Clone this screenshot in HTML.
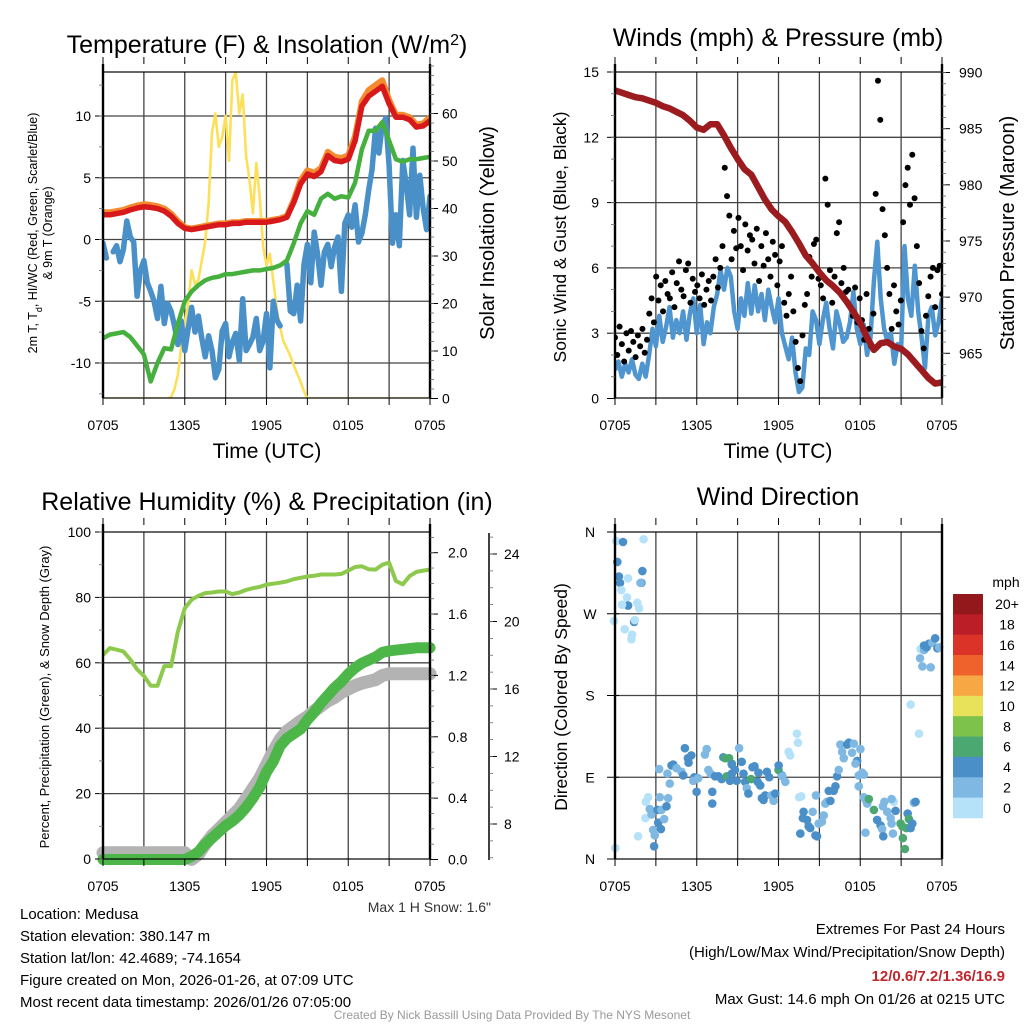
<!DOCTYPE html>
<html><head><meta charset="utf-8"><title>Medusa Meteogram</title>
<style>
html,body{margin:0;padding:0;background:#fff;}
svg{display:block;font-family:"Liberation Sans",Arial,sans-serif;}
</style></head>
<body>
<svg id="root" width="1024" height="1024" viewBox="0 0 1024 1024" xmlns="http://www.w3.org/2000/svg">
<rect x="0" y="0" width="1024" height="1024" fill="#fff"/>
<g id="p1"></g>
<g id="p2"></g>
<g id="p3"></g>
<g id="p4"></g>
<g id="txt">
<text x="267" y="53" font-size="25" text-anchor="middle">Temperature (F) &amp; Insolation (W/m<tspan baseline-shift="super" font-size="16">2</tspan>)</text>
<text x="778" y="46" font-size="25" text-anchor="middle">Winds (mph) &amp; Pressure (mb)</text>
<text x="267" y="510" font-size="25" text-anchor="middle">Relative Humidity (%) &amp; Precipitation (in)</text>
<text x="778" y="505" font-size="25" text-anchor="middle">Wind Direction</text>
<text x="267" y="458" font-size="21" text-anchor="middle">Time (UTC)</text>
<text x="778" y="458" font-size="21" text-anchor="middle">Time (UTC)</text>
<text transform="translate(37,233) rotate(-90)" font-size="12.5" text-anchor="middle">2m T, T<tspan baseline-shift="sub" font-size="9">d</tspan>, HI/WC (Red, Green, Scarlet/Blue)</text>
<text transform="translate(52,233) rotate(-90)" font-size="12.5" text-anchor="middle">&amp; 9m T (Orange)</text>
<text transform="translate(494,233) rotate(-90)" font-size="20" text-anchor="middle">Solar Insolation (Yellow)</text>
<text transform="translate(566,237) rotate(-90)" font-size="17.5" text-anchor="middle">Sonic Wind &amp; Gust (Blue, Black)</text>
<text transform="translate(1014,233) rotate(-90)" font-size="20" text-anchor="middle">Station Pressure (Maroon)</text>
<text transform="translate(49,697) rotate(-90)" font-size="13" text-anchor="middle">Percent, Precipitation (Green), &amp; Snow Depth (Gray)</text>
<text transform="translate(567,697) rotate(-90)" font-size="17.5" text-anchor="middle">Direction (Colored By Speed)</text>
<text x="491" y="912" font-size="14" fill="#333" text-anchor="end">Max 1 H Snow: 1.6"</text>
<g font-size="15">
<text x="20" y="919">Location: Medusa</text>
<text x="20" y="941">Station elevation: 380.147 m</text>
<text x="20" y="963">Station lat/lon: 42.4689; -74.1654</text>
<text x="20" y="985">Figure created on Mon, 2026-01-26, at 07:09 UTC</text>
<text x="20" y="1007">Most recent data timestamp: 2026/01/26 07:05:00</text>
</g>
<g font-size="15" text-anchor="end">
<text x="1005" y="934">Extremes For Past 24 Hours</text>
<text x="1005" y="957">(High/Low/Max Wind/Precipitation/Snow Depth)</text>
<text x="1005" y="981" fill="#c0272d" font-weight="bold">12/0.6/7.2/1.36/16.9</text>
<text x="1005" y="1004">Max Gust: 14.6 mph On 01/26 at 0215 UTC</text>
</g>
<text x="512" y="1019" font-size="12" fill="#999" text-anchor="middle">Created By Nick Bassill Using Data Provided By The NYS Mesonet</text>
</g>
</svg>
<script>
// ---------- DATA ----------
const timeLabels = ["0705","1305","1905","0105","0705"];
// panel 1 (half-hourly, 49 values)
const tempRed = [2.0,2.0,2.1,2.2,2.4,2.55,2.65,2.6,2.5,2.3,1.9,1.3,0.9,0.8,0.9,1.0,1.1,1.2,1.2,1.3,1.3,1.4,1.4,1.4,1.4,1.5,1.6,1.8,3.0,4.5,5.3,5.1,5.5,6.8,6.4,6.3,6.5,8.0,10.8,11.6,12.0,12.4,11.0,9.9,9.9,9.7,9.1,9.2,9.6];
const temp9mOrange = [2.2,2.2,2.3,2.4,2.6,2.75,2.85,2.8,2.7,2.5,2.1,1.5,1.0,0.9,1.0,1.1,1.2,1.3,1.3,1.4,1.4,1.5,1.5,1.5,1.5,1.6,1.7,1.9,3.2,4.8,5.6,5.4,5.8,7.1,6.7,6.6,6.8,8.4,11.2,12.1,12.5,12.9,11.3,10.1,10.1,9.9,9.3,9.4,9.9];
const dewGreen = [-8.0,-7.7,-7.6,-7.5,-7.9,-8.6,-9.3,-11.5,-10.0,-8.8,-8.9,-6.8,-5.0,-4.2,-3.7,-3.3,-3.1,-3.0,-2.8,-2.8,-2.7,-2.6,-2.5,-2.5,-2.4,-2.3,-2.1,-1.7,-0.3,1.3,2.3,2.0,3.3,3.7,3.3,3.5,3.4,4.6,7.3,8.8,8.8,9.5,8.0,6.5,6.3,6.5,6.5,6.6,6.7];
// quarter-hourly, 97 values (null = gap)
const chillBlue = [-0.3,-1.5,null,-1.0,-0.5,-1.8,-0.8,1.5,0.2,-0.2,-4.6,-2.5,-1.7,-3.5,-4.2,-5.0,-6.4,-3.8,-6.8,-5.2,-5.8,-7.0,-8.5,-6.6,-9.0,-7.2,-5.5,-7.5,-6.2,-8.0,-9.5,-7.8,-9.0,-11.2,-10.5,-7.4,-6.8,-9.5,-8.3,-7.6,-9.8,-4.8,-9.0,-8.5,-7.9,-6.4,-9.0,-8.2,-6.0,-10.4,-5.0,-6.5,-7.0,null,-2.0,-5.8,-6.0,-3.7,-6.6,-2.0,-0.4,-3.5,0.6,-1.2,-3.7,-1.0,-0.4,-2.2,-0.6,0.2,-4.2,1.3,2.0,1.0,2.8,-0.2,0.5,2.0,4.0,5.7,9.0,7.0,9.3,9.8,6.0,-0.3,2.0,-0.5,6.4,4.5,2.0,7.4,1.8,5.2,2.5,0.8,3.5];
// quarter-hourly insolation, 97 values
const insolation = [0,0,0,0,0,0,0,0,0,0,0,0,0,0,0,0,0,0,0,0,
0.3,2,5,11,16,20,27,24,25,29,33,41,56,60,53,55,59.5,50,67,68.7,60,64,51,46,39,49.6,42.5,32,28,30.5,24.7,19,15,12,10.5,9,7,5.2,3.5,1.5,0,
0,0,0,0,0,0,0,0,0,0,0,0,0,0,0,0,0,0,0,0,0,0,0,0,0,0,0,0,0,0,0,0,0,0,0,0];
const p1LeftTicks = [10,5,0,-5,-10];
const p1RightTicks = [0,10,20,30,40,50,60];
// panel 2
const pressure = [988.4,988.2,988.0,987.8,987.7,987.5,987.3,987.0,986.8,986.5,986.2,985.7,985.1,984.9,985.4,985.4,984.4,983.3,982.3,981.4,980.9,979.8,978.7,977.8,977.2,976.7,975.8,974.8,973.7,973.0,972.2,971.5,971.0,970.4,969.6,968.7,967.7,966.4,965.3,965.9,966.0,965.6,965.4,964.9,964.2,963.5,962.8,962.3,962.4];
const sonicWind = [1.3,1.7,1.0,1.6,1.2,1.8,1.1,0.9,1.6,1.0,2.0,3.2,2.4,3.8,2.6,3.3,4.2,2.8,3.6,3.0,4.0,2.7,3.9,4.6,3.0,4.3,2.5,3.5,3.0,4.2,4.8,5.9,5.0,6.0,5.6,4.0,3.2,4.6,3.8,5.3,3.9,5.2,4.0,4.8,3.6,5.0,4.2,3.5,4.6,3.0,2.4,1.8,2.8,1.2,0.3,0.5,2.3,2.0,4.0,3.6,2.5,3.6,4.4,3.2,2.3,4.0,3.4,2.6,2.8,3.5,4.9,3.2,2.5,3.4,2.0,2.8,5.4,7.2,4.6,3.2,2.6,3.0,1.6,2.5,2.2,7.0,4.6,3.8,6.1,4.0,2.8,1.4,3.8,4.2,2.9,3.5,4.6];
const gusts = [2.8,2.0,3.3,2.5,1.7,3.0, 2.2,3.1,2.6,1.9,2.9,2.4, 3.2,2.1,2.7,3.9,4.6,3.5, 5.6,4.5,5.2,4.0,5.4,4.8, 4.6,5.8,4.2,5.3,6.3,5.0, 4.7,5.9,6.2,4.4,5.5,4.9, 5.2,4.6,5.7,4.3,5.0,5.4, 4.5,5.6,6.4,5.1,6.0,7.0, 10.6,9.3,8.4,6.4,7.7,6.9, 8.3,7.0,5.9,8.0,6.8,7.5, 7.3,6.2,7.8,5.4,7.0,6.1, 7.6,6.4,5.6,7.2,6.6,5.2, 6.3,7.0,4.4,3.8,4.8,5.6, 4.0,2.6,1.4,0.8,2.9,4.3, 4.8,6.5,5.6,7.1,7.3,5.5, 5.2,4.6,10.1,8.9,5.9,4.4, 5.6,7.6,8.1,5.3,6.0,4.9, 5.0,4.2,3.8,5.1,3.5,4.6, 3.6,2.7,4.8,3.2,2.4,3.9, 9.4,14.6,12.8,8.7,7.5,6.0, 4.8,3.2,5.2,4.0,3.4,4.5, 8.1,9.8,10.6,8.9,11.2,9.2, 7.0,5.3,3.1,2.3,3.8,4.7, 5.6,6.0,4.2,5.9,6.1,4.8];
const windTicks = [0,3,6,9,12,15];
const pressTicks = [965,970,975,980,985,990];
// panel 3
const relHum = [62.4,64.5,64,63.5,61,58,56,53,53,59,59,69.6,76.7,79.3,80.5,81.3,81.5,81.8,81.8,81.0,81.5,82.3,82.8,83.2,83.9,84.2,84.5,84.9,85.6,86,86.4,86.6,87,87,87,87.2,88.2,89.3,89.5,88.6,88.5,90,90.6,85,84,86.5,87.8,88.2,88.5];
const precip = [0,0,0,0,0,0,0,0,0,0,0,0,0,0.02,0.05,0.1,0.14,0.18,0.22,0.25,0.29,0.34,0.40,0.47,0.57,0.64,0.74,0.79,0.82,0.85,0.91,0.96,1.02,1.07,1.12,1.16,1.21,1.25,1.28,1.30,1.32,1.35,1.36,1.365,1.37,1.375,1.38,1.38,1.38];
const snowDepth = [6.3,6.3,6.3,6.3,6.3,6.3,6.3,6.3,6.3,6.3,6.3,6.3,6.3,5.9,6.2,6.8,7.3,7.7,8.1,8.5,8.9,9.5,10.1,10.7,11.5,12.3,13.0,13.5,13.8,14.1,14.35,14.7,15.0,15.3,15.5,15.8,16.0,16.2,16.35,16.45,16.55,16.8,16.9,16.9,16.9,16.9,16.9,16.9,16.9];
const rhTicks = [0,20,40,60,80,100];
const precipTicks = [0.0,0.4,0.8,1.2,1.6,2.0];
const snowTicks = [8,12,16,20,24];
// panel 4
const dirHour = [0.1,0.59,2.1,0.17,0.29,0.96,0.37,1.94,0.47,1.87,2.01,0.88,0.96,0.52,1.64,1.77,1.4,-0.07,1.45,0.71,1.25,1.2,0.02,
1.69,2.23,2.26,2.43,2.55,2.68,2.8,2.92,2.87,3.12,3.17,3.37,3.61,3.41,3.29,3.24,3.78,3.9,3.85,4.02,4.15,4.27,4.52,4.88,5.01,5.13,5.35,5.4,5.6,5.82,5.74,5.99,6.11,6.6,6.73,6.85,7.02,7.14,7.14,7.34,7.59,7.83,7.95,8.08,8.2,8.37,8.57,8.57,8.44,8.57,8.81,8.93,9.11,9.3,9.43,9.55,9.67,9.79,9.99,10.09,10.24,10.47,10.53,10.66,10.78,10.9,11.02,11.15,11.32,11.47,11.64,11.76,12.0,12.01,12.25,12.28,12.5,12.74,12.86,13.35,13.43,13.52,13.67,13.6,13.79,
13.84,14.09,14.21,14.33,14.51,14.71,14.83,14.95,15.19,15.32,15.44,15.56,14.75,15.69,15.81,16.05,16.18,16.3,16.42,16.54,16.67,16.79,17.04,17.16,17.4,17.53,17.77,17.65,17.89,18.01,18.14,17.89,18.26,18.38,18.26,
18.4,18.51,18.63,19.0,19.24,19.49,19.61,19.69,19.77,19.66,19.98,20.23,20.3,20.4,20.47,20.3,20.59,20.96,21.08,21.13,21.28,21.38,21.48,21.57,21.7,21.82,21.94,22.06,21.7,22.31,
22.43,22.39,22.56,22.68,22.68,22.87,23.05,23.17,23.29,23.5,23.66,23.79,23.86,24.03];
const dirDeg = [350,349,352,327,311,309,304,304,296,304,317,288,279,280,282,276,261,262,263,253,247,242,12,
25,45,63,68,55,49,32,26,14,54,40,33,44,54,68,99,58,67,94,83,103,104,100,96,92,122,111,106,114,90,86,74,89,115,121,98,94,74,61,91,91,88,112,111,91,111,105,104,86,94,98,86,122,107,94,85,78,72,88,101,102,85,95,81,67,65,70,96,90,70,64,72,98,103,92,91,85,118,114,138,128,68,69,
28,45,52,43,36,34,52,26,25,39,41,48,61,63,70,75,64,75,80,91,98,126,118,111,126,128,117,127,108,105,92,121,95,80,93,
29,68,65,61,66,54,43,37,33,25,63,58,52,45,39,28,63,66,53,39,36,23,11,34,50,44,34,39,62,63,
170,138,231,221,212,230,235,233,237,211,238,243,232,233];
const dirSpeed = [0,4,0,4,4,0,4,4,0,2,4,0,4,0,0,0,4,0,0,0,0,0,0,
0,0,0,0,2,2,2,2,4,4,4,4,2,2,2,2,4,2,2,2,4,4,2,2,4,4,4,4,4,4,2,4,2,2,2,2,2,4,4,4,4,4,4,6,6,6,6,4,4,4,4,4,2,4,4,4,2,4,6,4,4,4,4,4,4,4,4,4,4,2,2,4,6,4,4,2,2,0,0,0,0,0,0,
4,4,4,4,4,4,2,4,4,2,2,2,2,2,2,4,4,4,4,4,2,2,2,2,4,4,2,2,4,2,2,2,2,2,2,
2,2,2,2,6,6,4,4,2,4,2,2,2,2,2,2,0,2,4,6,6,6,6,6,4,6,4,4,2,4,0,
0,0,2,2,2,4,4,4,2,2,4,4,2,2];
const dirLabels = ["N","E","S","W","N"];
const dirTickDeg = [0,90,180,270,360];
const speedClasses = ["0","2","4","6","8","10","12","14","16","18","20+"];
const speedColors = ["#b5e2f8","#7fb9e3","#4a8fc7","#4aa870","#7dc24b","#e8e15a","#f7a844","#f0622c","#dc3328","#bb1e26","#93181c"];

// ---------- HELPERS ----------
const NS="http://www.w3.org/2000/svg";
function mk(parent, tag, attrs){const e=document.createElementNS(NS,tag);for(const k in attrs)e.setAttribute(k,attrs[k]);parent.appendChild(e);return e;}
function axisX(x0,x1){return h=>x0+h*(x1-x0)/24;}
function lin(d0,d1,r0,r1){return v=>r0+(v-d0)*(r1-r0)/(d1-d0);}
function pathFrom(arr,xs,ys,step){let d="",pen=false;arr.forEach((v,i)=>{if(v===null){pen=false;return;}const x=xs(i*step),y=ys(v);d+=(pen?"L":"M")+x.toFixed(1)+","+y.toFixed(1);pen=true;});return d;}
function grid(g,x0,x1,y0,y1,ys,ticks){
  for(let h=3;h<24;h+=3){const gl=mk(g,"line",{x1:axisX(x0,x1)(h),x2:axisX(x0,x1)(h),y1:y0,y2:y1,stroke:"#444","stroke-width":1.3});
    }
  ticks.forEach(t=>{const y=ys(t);if(y<=y0+1||y>=y1-1)return;const gl=mk(g,"line",{x1:x0,x2:x1,y1:y,y2:y,stroke:"#444","stroke-width":1.3});
    });
}
function frame(g,x0,x1,y0,y1){
  const r=mk(g,"rect",{x:x0,y:y0,width:x1-x0,height:y1-y0,fill:"none",stroke:"#000","stroke-width":1.2});
  
  mk(g,"line",{x1:x0,x2:x0,y1:y0-8,y2:y1,stroke:"#000","stroke-width":2.4});
  mk(g,"line",{x1:x1,x2:x1,y1:y0-8,y2:y1,stroke:"#000","stroke-width":2.4});
}
function timeAxis(g,x0,x1,y1,ly){
  const xs=axisX(x0,x1);
  for(let h=0;h<=24;h+=3){mk(g,"line",{x1:xs(h),x2:xs(h),y1:y1,y2:y1+7,stroke:"#000","stroke-width":1});mk(g,"line",{x1:xs(h),x2:xs(h),y1:y1-334,y2:y1-341,stroke:"#000","stroke-width":1});}
  timeLabels.forEach((t,i)=>{const tx=mk(g,"text",{x:xs(i*6),y:ly,"font-size":14,"text-anchor":"middle"});tx.textContent=t;
    });
}
function yTicks(g,x,ys,ticks,minorStep,side,fmt,lx,anchor,ymin,ymax){
  const lo=Math.min(...ticks),hi=Math.max(...ticks);
  const dir=side==="left"?-1:1;
  ticks.forEach(t=>{const y=ys(t);mk(g,"line",{x1:x,x2:x+dir*8,y1:y,y2:y,stroke:"#000","stroke-width":1});
    const tx=mk(g,"text",{x:lx,y:y+5,"font-size":14,"text-anchor":anchor});tx.textContent=fmt(t);
    });
  if(minorStep){for(let v=lo-6*minorStep;v<=hi+6*minorStep;v+=minorStep){const y=ys(v);if(y<ymin||y>ymax)continue;mk(g,"line",{x1:x,x2:x+dir*4,y1:y,y2:y,stroke:"#666","stroke-width":0.8});}}
}

// ---------- PANEL 1 ----------
(function(){
  const g=document.getElementById('p1');const x0=103,x1=430,y0=72,y1=398;
  const xs=axisX(x0,x1);const yT=lin(0,10,239.5,116);const yI=lin(0,60,398.5,113.5);
  grid(g,x0,x1,y0,y1,yT,p1LeftTicks);
  const clip=mk(g,"clipPath",{id:"c1"});mk(clip,"rect",{x:x0,y:y0,width:x1-x0,height:y1-y0});
  const pg=mk(g,"g",{"clip-path":"url(#c1)"});
  const a=mk(pg,"path",{d:pathFrom(insolation,xs,yI,0.25),fill:"none",stroke:"#fde05a","stroke-width":2.6,"stroke-linejoin":"round"});
  
  const b=mk(pg,"path",{d:pathFrom(chillBlue,xs,yT,0.25),fill:"none",stroke:"#4a90c8","stroke-width":5.5,"stroke-linejoin":"round","stroke-linecap":"round"});
  
  const c=mk(pg,"path",{d:pathFrom(dewGreen,xs,yT,0.5),fill:"none",stroke:"#45b03d","stroke-width":4.5,"stroke-linejoin":"round"});
  
  const o=mk(pg,"path",{d:pathFrom(temp9mOrange,xs,yT,0.5),fill:"none",stroke:"#f58a2e","stroke-width":6,"stroke-linejoin":"round"});
  
  const r=mk(pg,"path",{d:pathFrom(tempRed,xs,yT,0.5),fill:"none",stroke:"#d7191c","stroke-width":5.5,"stroke-linejoin":"round"});
  
  frame(g,x0,x1,y0,y1);timeAxis(g,x0,x1,y1,430);
  yTicks(g,x0,yT,p1LeftTicks,2.5,"left",v=>String(v),91,"end",64,y1);
  yTicks(g,x1,yI,p1RightTicks,2,"right",v=>String(v),442,"start",64,y1);
})();

// ---------- PANEL 2 ----------
(function(){
  const g=document.getElementById('p2');const x0=615,x1=942,y0=72,y1=398;
  const xs=axisX(x0,x1);const yW=lin(0,15,398.5,72);const yP=lin(965,990,353.3,72.5);
  grid(g,x0,x1,y0,y1,yW,windTicks);
  const clip=mk(g,"clipPath",{id:"c2"});mk(clip,"rect",{x:x0,y:y0-4,width:x1-x0,height:y1-y0+4});
  const pg=mk(g,"g",{"clip-path":"url(#c2)"});
  const w=mk(pg,"path",{d:pathFrom(sonicWind,xs,yW,0.25),fill:"none",stroke:"#4f95d0","stroke-width":4.5,"stroke-linejoin":"round"});
  
  const gg=mk(pg,"g",{});
  const stepG=24/(gusts.length-1);
  gusts.forEach((v,i)=>{const d=mk(gg,"circle",{cx:xs(i*stepG),cy:yW(v),r:3,fill:"#000"});});
  const p=mk(pg,"path",{d:pathFrom(pressure,xs,yP,0.5),fill:"none",stroke:"#9b1b1e","stroke-width":6.5,"stroke-linejoin":"round","stroke-linecap":"round"});
  
  frame(g,x0,x1,y0,y1);timeAxis(g,x0,x1,y1,430);
  yTicks(g,x0,yW,windTicks,1,"left",v=>String(v),599,"end",64,y1);
  yTicks(g,x1,yP,pressTicks,1,"right",v=>String(v),959,"start",64,y1);
})();

// ---------- PANEL 3 ----------
(function(){
  const g=document.getElementById('p3');const x0=103,x1=430,y0=532,y1=859;
  const xs=axisX(x0,x1);const yR=lin(0,100,859,532);const yPr=lin(0,2,859.5,552.7);const yS=lin(8,24,824,554);
  grid(g,x0,x1,y0,y1,yR,rhTicks);
  const s=mk(g,"path",{d:pathFrom(snowDepth,xs,yS,0.5),fill:"none",stroke:"#b3b3b3","stroke-width":13,"stroke-linejoin":"round","stroke-linecap":"round"});
  
  const pr=mk(g,"path",{d:pathFrom(precip,xs,yPr,0.5),fill:"none",stroke:"#4cb748","stroke-width":11,"stroke-linejoin":"round","stroke-linecap":"round"});
  
  const rh=mk(g,"path",{d:pathFrom(relHum,xs,yR,0.5),fill:"none",stroke:"#8dc94d","stroke-width":4,"stroke-linejoin":"round"});
  
  frame(g,x0,x1,y0,y1);timeAxis(g,x0,x1,y1,891);
  yTicks(g,x0,yR,rhTicks,10,"left",v=>String(v),91,"end",525,y1);
  yTicks(g,x1,yPr,precipTicks,0.1,"right",v=>v.toFixed(1),448,"start",525,y1);
  mk(g,"line",{x1:489,x2:489,y1:533,y2:860,stroke:"#000","stroke-width":1.5});
  yTicks(g,489,yS,snowTicks,1,"right",v=>String(v),504,"start",534,y1);
})();

// ---------- PANEL 4 ----------
(function(){
  const g=document.getElementById('p4');const x0=615,x1=942,y0=532,y1=859;
  const xs=axisX(x0,x1);const yD=lin(0,360,859,532);
  grid(g,x0,x1,y0,y1,yD,dirTickDeg);
  const clip=mk(g,"clipPath",{id:"c4"});mk(clip,"rect",{x:x0-6,y:y0-6,width:x1-x0+12,height:y1-y0+12});
  const pg=mk(g,"g",{"clip-path":"url(#c4)"});
  dirHour.forEach((h,i)=>{const cls=Math.min(10,Math.round(dirSpeed[i]/2));const d=mk(pg,"circle",{cx:xs(h),cy:yD(dirDeg[i]),r:4.3,fill:speedColors[cls]});
    });
  frame(g,x0,x1,y0,y1);timeAxis(g,x0,x1,y1,891);
  dirTickDeg.forEach((d,i)=>{const y=yD(d);mk(g,"line",{x1:x0-8,x2:x0+4,y1:y,y2:y,stroke:"#000","stroke-width":1});
    const t=mk(g,"text",{x:590,y:y+5,"font-size":14,"text-anchor":"middle"});t.textContent=dirLabels[i];
    });
  const cb=mk(g,"g",{});
  const t0=mk(cb,"text",{x:1006,y:587,"font-size":14,"text-anchor":"middle"});t0.textContent="mph";
  
  const bh=224/speedClasses.length;
  speedClasses.slice().reverse().forEach((lab,i)=>{const ci=speedClasses.length-1-i;
    const r=mk(cb,"rect",{x:953,y:594+i*bh,width:30,height:bh+0.3,fill:speedColors[ci]});
    
    const t=mk(cb,"text",{x:1007,y:594+i*bh+bh/2+5,"font-size":14,"text-anchor":"middle"});t.textContent=lab;
    });
})();
</script>
</body></html>
